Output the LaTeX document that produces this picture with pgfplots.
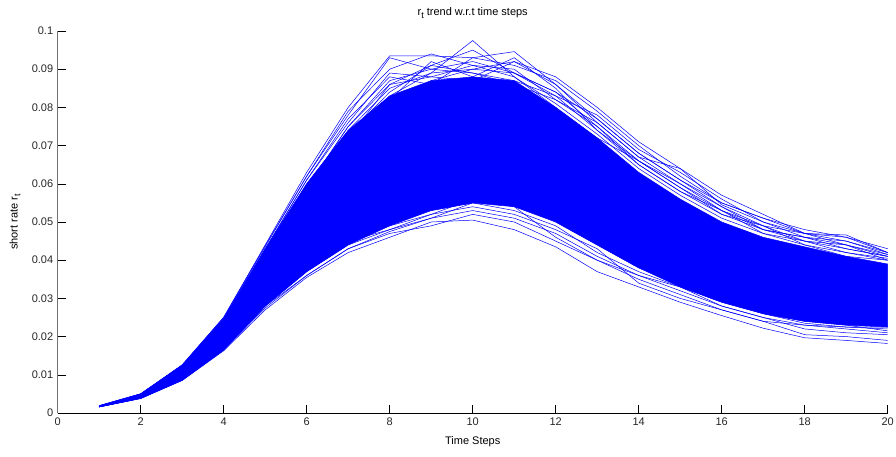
\documentclass[border=0pt]{standalone}
\usepackage{pgfplots}
\pgfplotsset{compat=1.18}
\usepackage{fontspec}
\setmainfont{Liberation Sans}
\definecolor{mblue}{rgb}{0,0,1}
\begin{document}
\begin{tikzpicture}[x=1pt,y=1pt]
\path[use as bounding box] (0,0) rectangle (896,456);
\begin{axis}[
  at={(57.7pt,43pt)}, anchor=south west,
  scale only axis, width=830pt, height=382pt,
  xmin=0, xmax=20, ymin=0, ymax=0.1,
  axis lines*=left,
  x axis line style={black, line width=0.8pt},
  y axis line style={black!55, line width=0.9pt},
  tick align=inside, major tick length=8pt,
  tick style={black, line width=0.6pt},
  xtick={0,2,...,20},
  ytick={0,0.01,0.02,0.03,0.04,0.05,0.06,0.07,0.08,0.09,0.1},
  yticklabels={0,0.01,0.02,0.03,0.04,0.05,0.06,0.07,0.08,0.09,0.1},
  /pgf/number format/assume math mode=true,
  ticklabel style={font=\fontsize{11}{13}\selectfont, text=black!85},
  xticklabel style={yshift=-1pt},
  yticklabel style={xshift=-1pt},
  xlabel={Time Steps},
  every axis x label/.style={at={(0.5,0)}, anchor=center, yshift=-29pt, font=\fontsize{11}{13}\selectfont},
  ylabel={short rate r\raisebox{-0.45ex}{\fontsize{9}{10}\selectfont t}},
  every axis y label/.style={at={(-0.0514,0.5)}, anchor=center, rotate=90, font=\fontsize{11}{13}\selectfont},
  title={r\raisebox{-0.55ex}{\fontsize{9}{10}\selectfont t} trend w.r.t time steps},
  every axis title/.style={at={(0.5,1)}, anchor=center, yshift=18pt, font=\fontsize{11}{13}\selectfont},
  clip=false,
  pth/.style={mblue, solid, mark=none, line width=0.5pt},
]
% dense band
\addplot[draw=mblue, fill=mblue, line width=0.5pt] coordinates {
(1,0.0019)(2,0.0050)(3,0.0125)(4,0.0245)(5,0.043)(6,0.060)(7,0.074)(8,0.083)(9,0.087)(10,0.088)
(11,0.087)(12,0.080)(13,0.072)(14,0.063)(15,0.056)(16,0.050)(17,0.046)(18,0.0435)(19,0.041)(20,0.039)
(20,0.0225)(19,0.023)(18,0.024)(17,0.026)(16,0.029)(15,0.033)(14,0.038)(13,0.044)(12,0.050)(11,0.054)
(10,0.055)(9,0.053)(8,0.049)(7,0.044)(6,0.037)(5,0.028)(4,0.0165)(3,0.0086)(2,0.0038)(1,0.0016)} -- cycle;
% upper outlier paths
\addplot[pth] coordinates {(1,0.0018)(2,0.0049)(3,0.0124)(4,0.0246)(5,0.0425)(6,0.059)(7,0.073)(8,0.083)(9,0.089)(10,0.0975)(11,0.088)(12,0.081)(13,0.073)(14,0.064)(15,0.057)(16,0.051)(17,0.047)(18,0.044)(19,0.041)(20,0.040)};
\addplot[pth] coordinates {(1,0.0019)(2,0.0050)(3,0.0126)(4,0.025)(5,0.044)(6,0.063)(7,0.080)(8,0.0935)(9,0.0935)(10,0.093)(11,0.0946)(12,0.086)(13,0.076)(14,0.067)(15,0.064)(16,0.0545)(17,0.050)(18,0.047)(19,0.0466)(20,0.042)};
\addplot[pth] coordinates {(1,0.0019)(2,0.0050)(3,0.0125)(4,0.0248)(5,0.0435)(6,0.062)(7,0.078)(8,0.093)(9,0.090)(10,0.092)(11,0.089)(12,0.084)(13,0.075)(14,0.066)(15,0.059)(16,0.053)(17,0.048)(18,0.046)(19,0.043)(20,0.041)};
\addplot[pth] coordinates {(1,0.0018)(2,0.0049)(3,0.0123)(4,0.0243)(5,0.042)(6,0.058)(7,0.072)(8,0.086)(9,0.091)(10,0.095)(11,0.089)(12,0.083)(13,0.074)(14,0.065)(15,0.058)(16,0.052)(17,0.049)(18,0.045)(19,0.044)(20,0.040)};
\addplot[pth] coordinates {(1,0.0018)(2,0.0048)(3,0.0122)(4,0.024)(5,0.041)(6,0.057)(7,0.071)(8,0.082)(9,0.092)(10,0.088)(11,0.093)(12,0.085)(13,0.074)(14,0.066)(15,0.060)(16,0.053)(17,0.047)(18,0.045)(19,0.043)(20,0.041)};
\addplot[pth] coordinates {(1,0.0019)(2,0.0050)(3,0.0125)(4,0.0247)(5,0.043)(6,0.061)(7,0.076)(8,0.089)(9,0.088)(10,0.091)(11,0.090)(12,0.082)(13,0.075)(14,0.065)(15,0.058)(16,0.053)(17,0.049)(18,0.044)(19,0.042)(20,0.0405)};
\addplot[pth] coordinates {(1,0.0018)(2,0.0049)(3,0.0124)(4,0.0245)(5,0.0425)(6,0.060)(7,0.074)(8,0.085)(9,0.089)(10,0.090)(11,0.092)(12,0.086)(13,0.077)(14,0.068)(15,0.061)(16,0.054)(17,0.048)(18,0.046)(19,0.045)(20,0.042)};
\addplot[pth] coordinates {(1,0.0018)(2,0.0048)(3,0.0121)(4,0.024)(5,0.042)(6,0.059)(7,0.075)(8,0.087)(9,0.090)(10,0.089)(11,0.087)(12,0.083)(13,0.078)(14,0.069)(15,0.063)(16,0.056)(17,0.050)(18,0.046)(19,0.044)(20,0.041)};
\addplot[pth] coordinates {(1,0.0018)(2,0.0049)(3,0.0123)(4,0.0244)(5,0.0428)(6,0.061)(7,0.077)(8,0.088)(9,0.086)(10,0.093)(11,0.091)(12,0.087)(13,0.079)(14,0.070)(15,0.062)(16,0.055)(17,0.051)(18,0.047)(19,0.045)(20,0.0415)};
\addplot[pth] coordinates {(1,0.0018)(2,0.0049)(3,0.0122)(4,0.0242)(5,0.042)(6,0.058)(7,0.073)(8,0.084)(9,0.091)(10,0.089)(11,0.086)(12,0.082)(13,0.076)(14,0.067)(15,0.060)(16,0.054)(17,0.049)(18,0.047)(19,0.046)(20,0.042)};
\addplot[pth] coordinates {(1,0.0018)(2,0.0048)(3,0.0121)(4,0.024)(5,0.0415)(6,0.057)(7,0.070)(8,0.081)(9,0.087)(10,0.090)(11,0.089)(12,0.084)(13,0.077)(14,0.068)(15,0.061)(16,0.055)(17,0.051)(18,0.048)(19,0.046)(20,0.043)};
\addplot[pth] coordinates {(1,0.0019)(2,0.0050)(3,0.0126)(4,0.0251)(5,0.0438)(6,0.062)(7,0.079)(8,0.090)(9,0.094)(10,0.091)(11,0.088)(12,0.080)(13,0.072)(14,0.066)(15,0.059)(16,0.052)(17,0.048)(18,0.045)(19,0.042)(20,0.040)};
\addplot[pth] coordinates {(1,0.0018)(2,0.0049)(3,0.0123)(4,0.0243)(5,0.0422)(6,0.059)(7,0.075)(8,0.086)(9,0.088)(10,0.087)(11,0.092)(12,0.088)(13,0.080)(14,0.071)(15,0.064)(16,0.057)(17,0.052)(18,0.047)(19,0.044)(20,0.0415)};
% lower outlier paths
\addplot[pth] coordinates {(1,0.0016)(2,0.0038)(3,0.0085)(4,0.0163)(5,0.027)(6,0.0355)(7,0.042)(8,0.046)(9,0.050)(10,0.0505)(11,0.048)(12,0.0435)(13,0.037)(14,0.033)(15,0.029)(16,0.0255)(17,0.0222)(18,0.0197)(19,0.019)(20,0.0182)};
\addplot[pth] coordinates {(1,0.0016)(2,0.0038)(3,0.0086)(4,0.0165)(5,0.0275)(6,0.036)(7,0.043)(8,0.047)(9,0.049)(10,0.052)(11,0.050)(12,0.045)(13,0.040)(14,0.035)(15,0.031)(16,0.027)(17,0.024)(18,0.0205)(19,0.020)(20,0.019)};
\addplot[pth] coordinates {(1,0.0016)(2,0.0039)(3,0.0087)(4,0.0167)(5,0.028)(6,0.037)(7,0.044)(8,0.048)(9,0.051)(10,0.053)(11,0.051)(12,0.047)(13,0.041)(14,0.036)(15,0.032)(16,0.028)(17,0.025)(18,0.022)(19,0.021)(20,0.0205)};
\addplot[pth] coordinates {(1,0.0016)(2,0.0039)(3,0.0088)(4,0.0168)(5,0.0285)(6,0.0375)(7,0.045)(8,0.049)(9,0.052)(10,0.054)(11,0.052)(12,0.048)(13,0.043)(14,0.034)(15,0.030)(16,0.027)(17,0.024)(18,0.023)(19,0.022)(20,0.021)};
\addplot[pth] coordinates {(1,0.0017)(2,0.0040)(3,0.0089)(4,0.017)(5,0.029)(6,0.038)(7,0.046)(8,0.050)(9,0.053)(10,0.055)(11,0.053)(12,0.049)(13,0.042)(14,0.037)(15,0.033)(16,0.028)(17,0.025)(18,0.023)(19,0.0225)(20,0.022)};
\addplot[pth] coordinates {(1,0.0017)(2,0.0040)(3,0.0090)(4,0.0172)(5,0.0295)(6,0.039)(7,0.045)(8,0.048)(9,0.052)(10,0.056)(11,0.054)(12,0.046)(13,0.040)(14,0.036)(15,0.033)(16,0.029)(17,0.026)(18,0.024)(19,0.023)(20,0.0215)};
\addplot[pth] coordinates {(1,0.0016)(2,0.0039)(3,0.0087)(4,0.0166)(5,0.028)(6,0.036)(7,0.043)(8,0.0475)(9,0.051)(10,0.055)(11,0.055)(12,0.050)(13,0.044)(14,0.038)(15,0.034)(16,0.030)(17,0.026)(18,0.0235)(19,0.0225)(20,0.0225)};
\addplot[pth] coordinates {(1,0.0017)(2,0.0041)(3,0.0091)(4,0.0175)(5,0.030)(6,0.040)(7,0.047)(8,0.051)(9,0.054)(10,0.057)(11,0.056)(12,0.051)(13,0.045)(14,0.039)(15,0.034)(16,0.030)(17,0.027)(18,0.025)(19,0.024)(20,0.023)};
\end{axis}
\end{tikzpicture}
\end{document}
